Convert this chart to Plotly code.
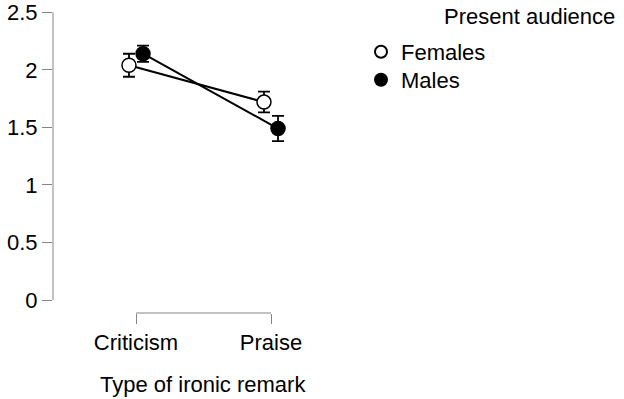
import plotly.graph_objects as go

categories = ["Criticism", "Praise"]
cat_pos = [0, 1]
dodge = 0.052
female_mean = [2.04, 1.72]
female_err = [0.10, 0.09]
male_mean = [2.14, 1.49]
male_err = [0.07, 0.11]
y_ticks = [0, 0.5, 1, 1.5, 2, 2.5]
y_ticktext = ["0", "0.5", "1", "1.5", "2", "2.5"]

FONT = "Liberation Sans, Arial, sans-serif"
FS = 22
GRAY = "#858585"

fx = [p - dodge for p in cat_pos]
mx = [p + dodge for p in cat_pos]

fig = go.Figure()
fig.add_trace(go.Scatter(
    x=fx, y=female_mean, mode="lines+markers", showlegend=False,
    line=dict(color="black", width=2),
    marker=dict(symbol="circle", size=14, color="white", line=dict(color="black", width=1.5)),
    error_y=dict(type="data", array=female_err, color="black", thickness=1.8, width=6),
))
fig.add_trace(go.Scatter(
    x=mx, y=male_mean, mode="lines+markers", showlegend=False,
    line=dict(color="black", width=2),
    marker=dict(symbol="circle", size=14, color="black", line=dict(color="black", width=1.5)),
    error_y=dict(type="data", array=male_err, color="black", thickness=1.8, width=6),
))
# legend entries
fig.add_trace(go.Scatter(
    x=[None], y=[None], mode="markers", name="Females", legend="legend",
    marker=dict(symbol="circle", size=13, color="white", line=dict(color="black", width=1.2)),
))
fig.add_trace(go.Scatter(
    x=[None], y=[None], mode="markers", name="Males", legend="legend2",
    marker=dict(symbol="circle", size=13, color="black", line=dict(color="black", width=1.2)),
))

W, H = 624, 399
L, R, B = 53, 353, 313
y0px, ytop_px = 300, 12
ppu = (y0px - ytop_px) / 2.5
ytop = 2.52
T = y0px - ytop * ppu
px_per_cat = 135.0
xmin = -(136 - L) / px_per_cat
xmax = (R - 136) / px_per_cat
ymin = -(B - y0px) / ppu


def pxx(p):
    return (p - L) / (R - L)


def pxy(p):
    return (B - p) / (B - T)


leg_common = dict(xref="container", yref="container", xanchor="left", yanchor="middle",
                  font=dict(size=FS), itemsizing="constant", bgcolor="rgba(0,0,0,0)")

fig.update_layout(
    width=W, height=H,
    margin=dict(l=L, r=W - R, t=T, b=H - B, pad=0, autoexpand=False),
    paper_bgcolor="white", plot_bgcolor="white",
    font=dict(family=FONT, size=FS, color="black"),
    xaxis=dict(range=[xmin, xmax], tickvals=cat_pos, ticktext=categories,
               ticks="outside", ticklen=10, tickcolor=GRAY, tickwidth=1,
               showgrid=False, zeroline=False, showline=False, automargin=False),
    yaxis=dict(range=[ymin, ytop], tickvals=y_ticks, ticktext=y_ticktext,
               ticks="outside", ticklen=10, tickcolor=GRAY, tickwidth=1,
               showgrid=False, zeroline=False, showline=False, automargin=False),
    legend=dict(x=361 / W, y=1 - 52 / H, **leg_common),
    legend2=dict(x=361 / W, y=1 - 80 / H, **leg_common),
    shapes=[
        dict(type="line", xref="paper", yref="y", x0=0, x1=0, y0=0, y1=2.5,
             line=dict(color=GRAY, width=1)),
        dict(type="line", xref="x", yref="paper", x0=cat_pos[0], x1=cat_pos[-1], y0=0, y1=0,
             line=dict(color=GRAY, width=1)),
    ],
    annotations=[
        dict(text="Present audience", xref="paper", yref="paper",
             x=pxx(617), y=pxy(16),
             xanchor="right", yanchor="middle", showarrow=False, font=dict(size=FS)),
        dict(text="Type of ironic remark", xref="paper", yref="paper",
             x=pxx(203), y=pxy(385), xanchor="center", yanchor="middle",
             showarrow=False, font=dict(size=FS)),
    ],
)
fig.write_html("out.html", post_script="document.body.style.margin='0';",
               config={"displayModeBar": False})
